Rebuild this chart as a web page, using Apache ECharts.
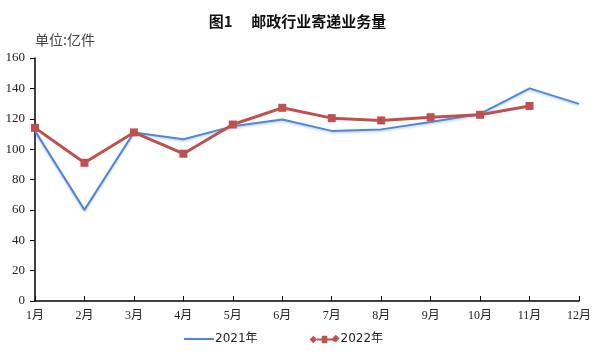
<!DOCTYPE html>
<html>
<head>
<meta charset="utf-8">
<script src="https://cdn.jsdelivr.net/npm/echarts@6/dist/echarts.min.js"></script>
<style>
  html, body { margin: 0; padding: 0; background: #fff; }
  #chart { width: 595px; height: 354px; }
</style>
</head>
<body>
<div id="chart"></div>
<script>
const months = ['1月', '2月', '3月', '4月', '5月', '6月', '7月', '8月', '9月', '10月', '11月', '12月']
const data2021 = [112, 60, 111, 106.5, 115, 119.5, 112, 113, 117.8, 123.2, 140, 129.8]
const data2022 = [114, 91, 111, 97, 116.2, 127.2, 120.4, 118.9, 121, 122.6, 128.4]

const serif = '"Liberation Serif", "Times New Roman", "Noto Sans CJK SC", serif'
const redIcon = 'path://M0,5 L4,1 L8,5 L4,9 Z M8,4 L13,4 L13,1 L19,1 L19,4 L24,4 L28,0 L32,4 L28,8 L24,6 L19,6 L19,9 L13,9 L13,6 L8,6 Z'

const chart = echarts.init(document.getElementById('chart'))
chart.setOption({
  animation: false,
  title: {
    text: '图1　 邮政行业寄递业务量',
    left: 'center',
    top: 9,
    textStyle: {
      fontSize: 15,
      fontWeight: 'bold',
      color: '#111',
      fontFamily: '"Noto Sans CJK SC", sans-serif'
    }
  },
  legend: {
    bottom: 4,
    left: 179,
    itemGap: 52,
    itemWidth: 30,
    itemHeight: 9,
    textStyle: { fontSize: 12, color: '#222', padding: [0, 0, 0, -4], fontFamily: '"DejaVu Sans", "Noto Sans CJK SC", sans-serif' },
    data: [
      { name: '2021年', icon: 'path://M0,0 L30,0 L30,2 L0,2 Z', itemStyle: { color: '#4f86d6' } },
      { name: '2022年', icon: redIcon, itemStyle: { color: '#c0504d' } }
    ]
  },
  grid: {
    left: 35,
    right: 16,
    top: 58,
    bottom: 53
  },
  xAxis: {
    type: 'category',
    boundaryGap: false,
    data: months,
    axisLine: { lineStyle: { color: '#000', width: 1.5 } },
    axisTick: { inside: true, length: 5, lineStyle: { color: '#000' } },
    axisLabel: { color: '#222', fontSize: 12, fontFamily: serif, margin: 9 }
  },
  yAxis: {
    type: 'value',
    min: 0,
    max: 160,
    interval: 20,
    name: '单位:亿件',
    nameLocation: 'end',
    nameGap: 11,
    nameTextStyle: { color: '#444', fontSize: 14, fontFamily: '"Noto Sans CJK SC", sans-serif', align: 'left', padding: [0, 0, 0, 0] },
    axisLine: { show: true, lineStyle: { color: '#000', width: 1.5 } },
    axisTick: { show: true, length: 5, lineStyle: { color: '#000' } },
    splitLine: { show: false },
    axisLabel: { color: '#222', fontSize: 13, fontFamily: serif, margin: 10 }
  },
  series: [
    {
      name: '2021年',
      type: 'line',
      data: data2021,
      symbol: 'none',
      lineStyle: { color: '#4f86d6', width: 2, shadowColor: 'rgba(79,134,214,0.35)', shadowBlur: 2, shadowOffsetY: 1.5 },
      itemStyle: { color: '#4f86d6' },
      z: 2
    },
    {
      name: '2022年',
      type: 'line',
      data: data2022,
      symbol: 'rect',
      symbolSize: 8,
      lineStyle: { color: '#c0504d', width: 3 },
      itemStyle: { color: '#c0504d' },
      z: 3
    }
  ]
})
</script>
</body>
</html>
